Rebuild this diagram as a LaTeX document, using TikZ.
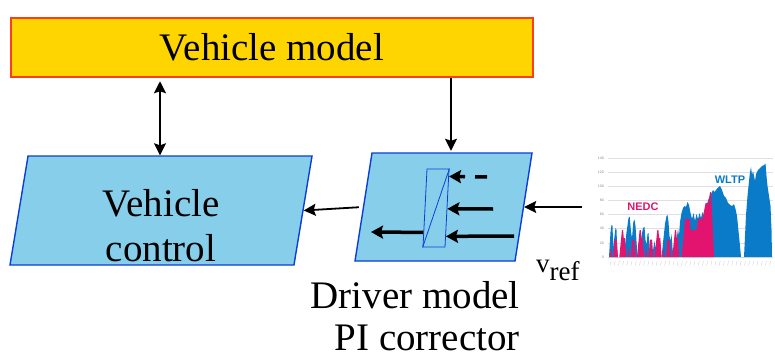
\documentclass[tikz,border=0pt]{standalone}
\usepackage{fontspec}
\setmainfont{Liberation Serif}
\newfontfamily\chartfont{Liberation Sans}
\usepackage{xcolor}
\usepackage{tikz}
\usetikzlibrary{shapes.geometric,arrows.meta,calc,positioning}

\definecolor{modelfill}{HTML}{FFD500}
\definecolor{modeldraw}{HTML}{FF3D14}
\definecolor{blockfill}{HTML}{87CEEB}
\definecolor{blockdraw}{HTML}{0A3FD6}
\definecolor{wltpblue}{HTML}{0A7BC9}
\definecolor{nedcpink}{HTML}{E3146F}

\newcommand{\bigtext}{\fontsize{39}{45}\selectfont}

\begin{document}
\begin{tikzpicture}[
    x=1pt, y=-1pt,
    model/.style={rectangle, draw=modeldraw, fill=modelfill, line width=2.5pt, minimum width=522pt, minimum height=59pt, font=\bigtext},
    para/.style={trapezium, draw=blockdraw, fill=blockfill, line width=1.4pt, trapezium stretches body, inner sep=0pt},
    arr/.style={-{Stealth[length=12pt,width=12pt,inset=2pt]}, line width=1.8pt},
    dblarr/.style={{Stealth[length=12pt,width=12pt,inset=2pt]}-{Stealth[length=12pt,width=12pt,inset=2pt]}, line width=1.8pt},
    inarr/.style={-{Stealth[length=12pt,width=13pt,inset=2pt]}, line width=3.5pt},
    grid line/.style={gray!25, line width=0.5pt},
    axis label/.style={font=\chartfont\fontsize{3.5}{4}\selectfont, text=gray, inner sep=0pt}
]
\useasboundingbox (0,0) rectangle (775,361);

\node[model] (vm) at (272,47.5) {Vehicle model};
\node[para, trapezium left angle=80.6, trapezium right angle=99.4, minimum width=302pt, text height=54.5pt, text depth=54.5pt, font=\bigtext] (vc) at (161,210.5) {\raisebox{-26pt}{\begin{tabular}{@{}c@{}}Vehicle\\control\end{tabular}}};
\node[para, trapezium left angle=81.05, trapezium right angle=98.95, minimum width=177pt, text height=54pt, text depth=54pt] (drv) at (443.5,207) {};
\node[para, line width=0.8pt, trapezium left angle=87.06, trapezium right angle=92.94, minimum width=26pt, text height=39pt, text depth=39pt] (pi) at (436,208) {};
\draw[blockdraw, line width=0.8pt] (pi.top right corner) -- (pi.bottom left corner);

\node[font=\fontsize{39}{42}\selectfont, align=right, inner sep=0pt, anchor=north east] (drvlbl) at (520,281.5) {Driver model\\PI corrector};
\node[font=\fontsize{27}{30}\selectfont, inner sep=0pt, anchor=base west] (vref) at (536,272) {v\raisebox{-8pt}{ref}};

\coordinate (dblx) at (160,0);
\coordinate (downx) at (451,0);
\coordinate (vin) at (582,207);
\coordinate (pd) at (487,177);
\coordinate (pm) at (493,209);
\coordinate (pb) at (514,236);
\coordinate (pout) at (371,232);

\draw[dblarr, shorten <=3pt] (vm.south -| dblx) -- (vc.north -| dblx);
\draw[arr, shorten >=1.5pt] (vm.south -| downx) -- (drv.north -| downx);
\draw[arr, shorten <=4pt] (drv.west) -- (vc.east);
\draw[arr] (vin) -- (drv.east);

\draw[inarr, dash pattern=on 12pt off 10pt] (pd) -- ($(pi.top right corner)!0.1!(pi.bottom right corner)$);
\draw[inarr] (pm) -- ($(pi.top right corner)!0.51!(pi.bottom right corner)$);
\draw[inarr] (pb) -- ($(pi.top right corner)!0.86!(pi.bottom right corner)$);
\draw[inarr] ($(pi.top left corner)!0.81!(pi.bottom left corner)$) -- (pout);

\foreach \k in {0,...,7} {
    \pgfmathtruncatemacro\v{\k*20}
    \draw[grid line] (608,{257-\k*14.14}) -- (773,{257-\k*14.14});
    \node[axis label, anchor=east] (yl\k) at (604,{257-\k*14.14}) {\v};
}
\foreach \i in {0,...,38}
    \draw[gray!35, line width=0.4pt] ({611+\i*4.2},261) -- ++(-1,4.5);

\fill[wltpblue] (609,257) -- (610.5,232) -- (611.5,225) -- (612.5,226) -- (613.3,248) -- (614.3,238) -- (615.5,228) -- (616.5,230) -- (617.5,257)
    -- (624,257) -- (626,236) -- (628.5,218) -- (629.7,216.5) -- (631,232) -- (632,238) -- (633.3,222) -- (634.5,219.5) -- (635.5,226) -- (637.5,257)
    -- (639.5,257) -- (641.5,236) -- (643,228) -- (644.5,227) -- (645.5,240) -- (646.5,245) -- (647.5,234) -- (648.5,233) -- (649.5,248) -- (650.5,257)
    -- (652,257) -- (653.5,247) -- (654.5,241) -- (655.5,249) -- (656.5,240) -- (657.5,238) -- (658.5,250) -- (659.5,257)
    -- (661.5,257) -- (663.5,238) -- (665,224) -- (666.5,216) -- (667.5,215) -- (668.5,222) -- (669.5,236) -- (670.5,241) -- (671.5,234) -- (672.5,248) -- (673.5,257)
    -- (675,257) -- (676.5,240) -- (678,229) -- (679,236) -- (680,222) -- (681.5,213) -- (683,208) -- (684.5,206) -- (686,207) -- (687.5,202) -- (689,205)
    -- (690.5,213) -- (692,219) -- (693.5,213) -- (695,221) -- (696.5,214) -- (698,219) -- (699.5,213) -- (701,218) -- (702.5,212) -- (704,216) -- (705.5,208)
    -- (707,204) -- (708.5,199) -- (710,196) -- (711.5,193) -- (713,190) -- (714.5,192) -- (716,190) -- (718,187.5) -- (720,186) -- (722,190) -- (724,196)
    -- (726,198) -- (728,203) -- (730,205) -- (732,206) -- (734,204) -- (735.5,209) -- (737,216) -- (738,226) -- (739,236) -- (740,246) -- (741,257)
    -- (744,257) -- (745,236) -- (746,215) -- (747.5,196) -- (749,181) -- (750,172) -- (751,167) -- (752,175) -- (753,171) -- (754,176) -- (755,181)
    -- (756,174) -- (758,170) -- (760,168) -- (762,166) -- (764,165) -- (765.5,163.5) -- (766.5,176) -- (767.5,186) -- (769,196) -- (770.5,206) -- (771.5,230) -- (772,257) -- cycle;

\foreach \k in {0,...,3} {
    \pgfmathsetmacro\ox{609+\k*17.67}
    \fill[nedcpink] ({\ox+0.8},257) -- ({\ox+1.36},248.9) -- ({\ox+2.08},248.9) -- ({\ox+2.8},257)
        -- ({\ox+4.2},257) -- ({\ox+5.53},239.7) -- ({\ox+7.7},239.7) -- ({\ox+9},257)
        -- ({\ox+10.3},257) -- ({\ox+12.96},230) -- ({\ox+14.04},230) -- ({\ox+14.77},238.1) -- ({\ox+15.95},238.1) -- ({\ox+17.3},257) -- cycle;
}
\fill[nedcpink] (681.5,257) -- (685.2,219.2) -- (689.7,219.2) -- (690.5,230) -- (696.7,230) -- (697.9,219.2) -- (702.4,219.2)
    -- (705.6,203) -- (708.3,203) -- (710.1,192.2) -- (711,192.2) -- (714.1,257) -- cycle;

\node[font=\chartfont\bfseries\fontsize{11}{13}\selectfont, text=nedcpink, inner sep=0pt] (nedc) at (643,207) {NEDC};
\node[font=\chartfont\bfseries\fontsize{11}{13}\selectfont, text=wltpblue, inner sep=0pt] (wltp) at (730,180) {WLTP};

\end{tikzpicture}
\end{document}
